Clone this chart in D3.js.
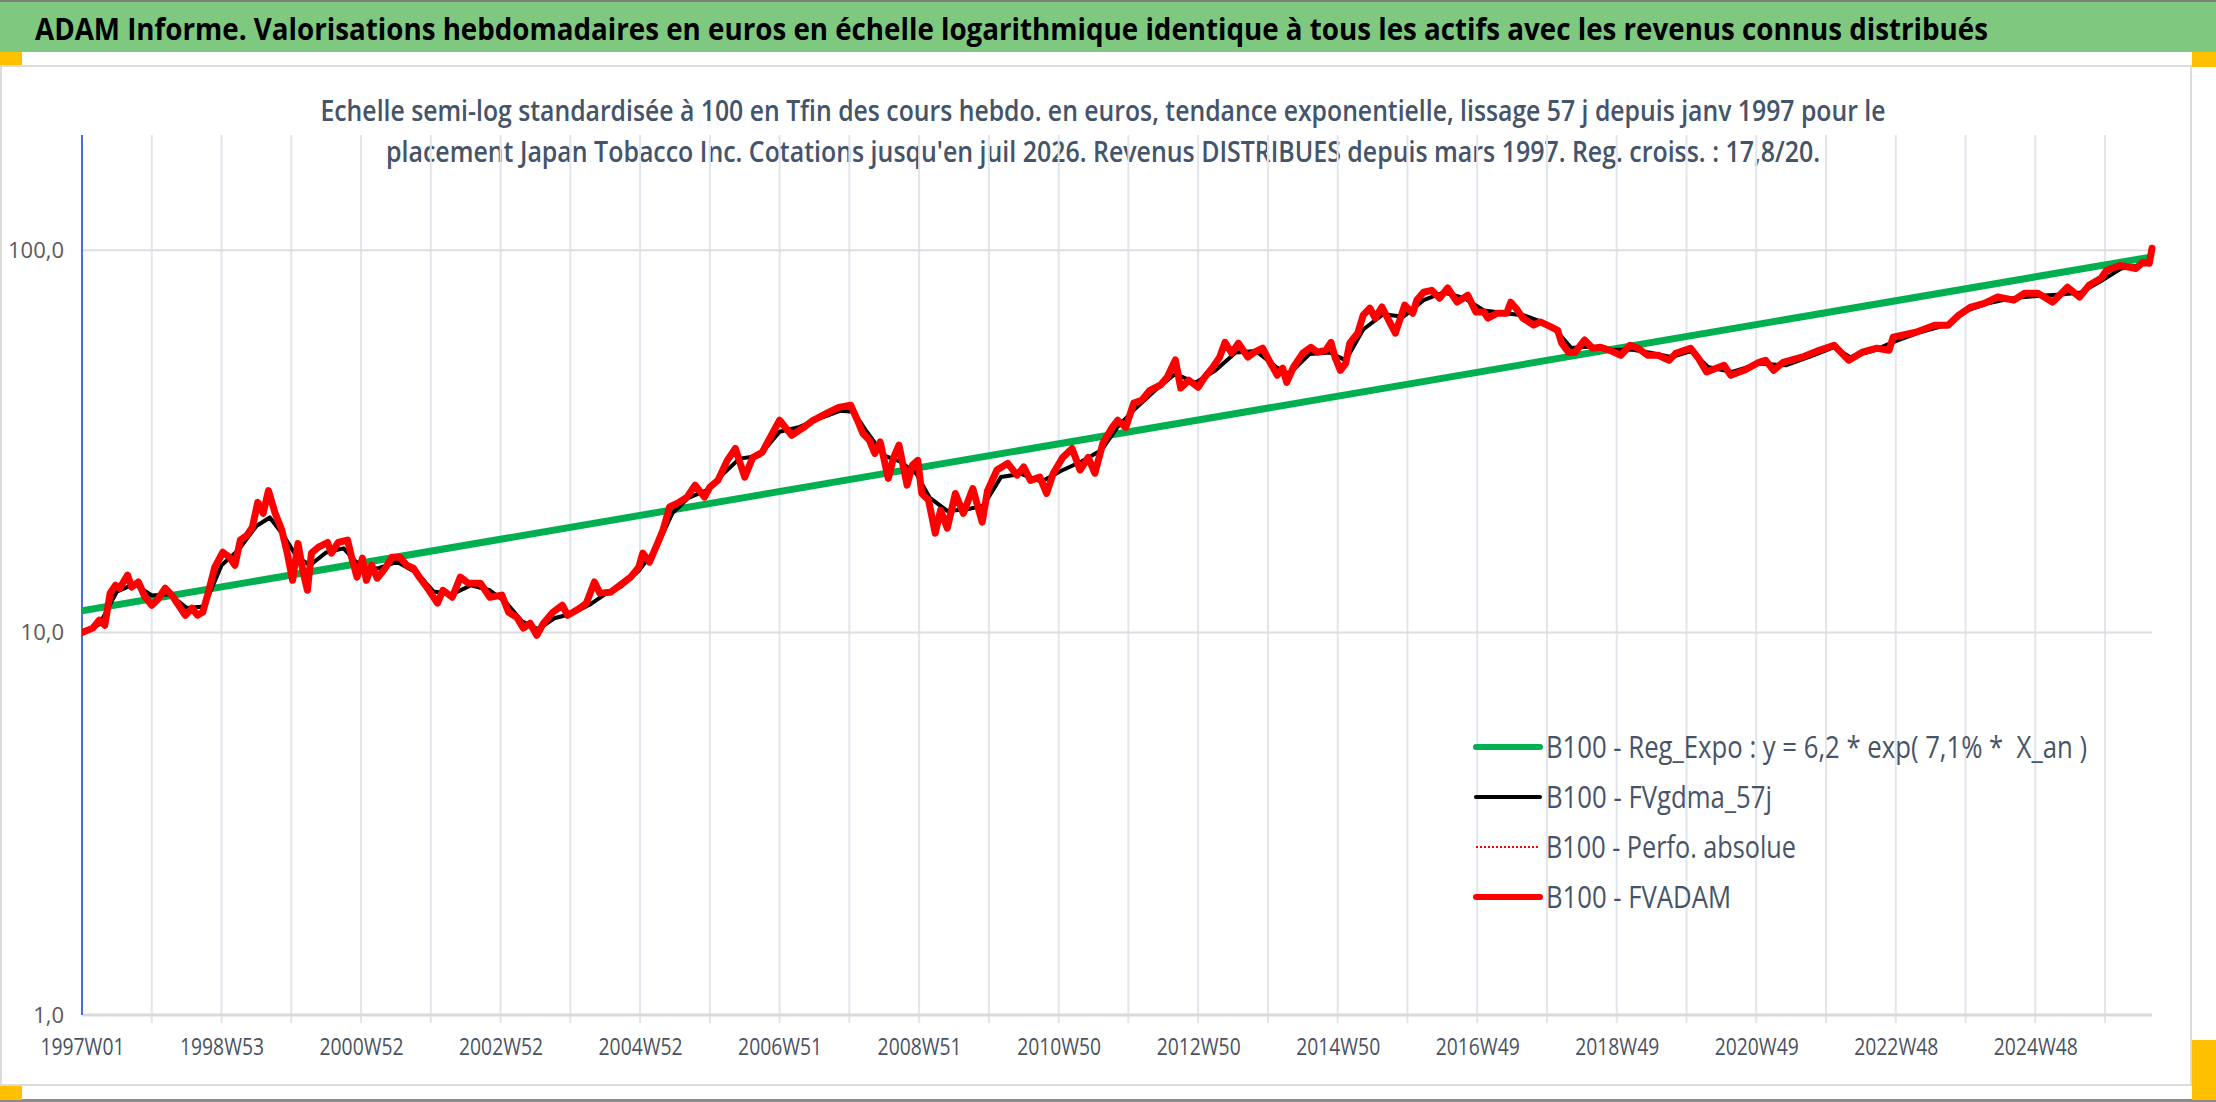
<!DOCTYPE html>
<html>
<head>
<meta charset="utf-8">
<script src="https://cdn.jsdelivr.net/npm/d3@7"></script>
<style>
  body { margin: 0; background: #fff; }
  svg { display: block; font-family: "Open Sans", "Noto Sans", sans-serif; }
  .pre { white-space: pre; }
</style>
</head>
<body>
<svg id="chart"></svg>
<script>
// ---- data (week index from 1997W01, value in base 100) ----
var tickLabels = ["1997W01","1998W53","2000W52","2002W52","2004W52","2006W51","2008W51",
                  "2010W50","2012W50","2014W50","2016W49","2018W49","2020W49","2022W48","2024W48"];
var yTicks = [1, 10, 100];
var yLabels = ["1,0", "10,0", "100,0"];

var regWeeks = [0, 1543];
var regValues = [11.4, 96];

var fvadamWeeks = [0,8,13,17,21,25,28,34,37,42,47,52,56,62,67,72,77,82,86,90,94,99,105,110,114,118,123,127,131,135,
  139,144,149,153,157,161,165,168,171,176,183,186,191,198,201,205,209,212,216,220,226,231,237,242,247,252,257,261,265,269,
  276,282,288,297,304,313,318,324,329,334,339,344,351,358,362,366,371,376,382,386,394,401,409,415,418,423,429,433,438,444,
  451,457,464,468,474,481,487,494,500,507,513,520,529,538,545,555,564,573,578,582,587,591,595,601,605,609,615,619,623,626,
  631,636,640,645,651,657,664,671,675,682,690,697,702,707,714,719,724,731,738,744,750,755,761,768,772,778,784,790,796,804,
  809,815,819,825,832,837,843,848,852,857,862,869,874,880,886,891,895,898,903,910,916,921,927,931,934,938,942,945,951,955,
  960,964,969,974,979,983,986,992,995,1000,1006,1012,1018,1025,1033,1039,1045,1048,1055,1062,1065,1070,1074,1082,1087,1095,
  1100,1103,1108,1113,1120,1126,1132,1139,1147,1154,1160,1167,1175,1183,1188,1199,1205,1211,1224,1229,1239,1250,1255,1261,
  1268,1282,1295,1306,1311,1317,1327,1338,1347,1350,1357,1367,1381,1391,1399,1408,1418,1428,1440,1448,1458,1469,1480,1489,
  1496,1505,1509,1519,1531,1536,1541,1543];
var fvadamValues = [10.0,10.27,10.78,10.45,12.68,13.3,13.06,14.13,13.15,13.56,12.37,11.79,12.15,13.06,12.53,11.79,11.1,11.58,11.1,11.3,
  12.68,14.82,16.22,15.74,15.0,17.44,17.97,18.86,21.9,20.5,23.5,20.5,18.5,16.13,13.7,17.1,14.3,12.9,16.13,16.7,
  17.2,16.13,17.2,17.44,15.74,13.96,15.65,13.7,15.0,13.87,14.73,15.74,15.74,15.0,14.73,13.87,13.15,12.53,11.94,12.9,
  12.37,13.96,13.46,13.46,12.37,12.53,11.3,10.97,10.27,10.58,9.84,10.58,11.3,11.79,11.1,11.3,11.58,11.94,13.56,12.68,
  12.75,13.3,13.96,14.82,16.13,15.28,17.1,18.5,21.3,21.8,22.6,24.3,22.6,24.0,25.0,28.2,30.3,25.5,28.7,29.6,
  32.4,35.9,32.8,34.4,35.9,37.4,38.8,39.3,35.9,33.2,31.8,29.4,31.5,25.3,28.7,30.9,24.3,27.4,28.2,23.1,
  22.2,18.2,20.9,18.75,23.1,20.5,23.8,19.45,23.5,26.6,27.7,25.8,27.1,25.0,25.5,23.1,26.1,28.7,30.3,26.6,
  28.7,26.1,31.3,34.4,35.9,34.4,39.8,40.5,43.0,44.4,46.6,51.6,43.6,45.7,43.8,46.6,49.4,52.5,57.4,53.8,
  57.1,52.5,54.1,55.4,50.6,47.1,49.1,45.1,49.4,53.8,55.7,54.1,54.7,57.4,52.5,48.5,50.6,57.1,60.7,67.6,
  70.5,66.4,71.0,65.6,60.7,66.8,71.8,68.4,74.0,77.6,78.5,74.9,79.6,73.1,76.2,68.9,68.9,66.4,68.4,68.4,
  73.1,69.7,66.4,63.7,64.9,63.0,61.7,57.1,54.1,54.1,58.2,55.4,55.7,54.7,53.1,56.4,55.4,53.1,53.1,51.5,
  53.7,55.4,52.1,48.0,50.0,47.1,48.5,50.9,51.5,48.5,50.9,52.5,54.7,56.4,54.1,51.5,54.1,55.4,54.7,59.2,
  59.9,61.0,63.6,63.6,67.6,71.0,72.6,75.4,74.0,77.1,77.1,73.1,80.0,75.4,80.9,84.4,88.5,91.2,89.5,92.9,
  92.4,101.1];

var fvgdmaWeeks = [0,13,26,39,52,65,78,91,104,117,130,140,150,160,170,182,195,208,220,235,250,262,276,290,304,316,328,340,352,365,
  378,390,402,415,428,440,452,465,478,490,505,520,535,550,565,575,585,598,610,622,632,645,660,672,685,700,715,730,745,760,
  772,785,800,815,830,845,860,875,890,900,915,930,942,955,970,985,1000,1015,1030,1045,1060,1075,1090,1100,1110,1125,1140,1155,1170,1185,
  1200,1212,1230,1250,1270,1290,1306,1318,1335,1350,1370,1390,1405,1420,1440,1460,1475,1490,1505,1520,1535,1543];
var fvgdmaValues = [10.0,10.5,12.8,13.4,12.5,12.6,11.6,11.7,15.0,16.5,19.0,20.0,18.0,15.8,15.0,16.2,16.6,14.8,14.7,15.3,
  14.3,12.8,12.6,13.3,12.9,12.0,10.7,10.2,10.9,11.2,11.8,12.6,13.2,14.5,16.6,20.5,22.5,23.5,26.0,28.5,
  29.0,33.5,34.5,36.3,38.0,37.8,33.5,29.0,28.0,26.0,22.5,20.8,21.0,21.5,25.5,26.0,24.8,26.5,28.0,30.0,
  34.5,38.5,43.0,47.5,45.0,48.5,54.0,54.5,49.5,47.5,53.5,54.0,51.5,62.0,68.0,67.0,74.0,77.5,75.0,69.5,
  68.5,67.5,64.5,61.0,55.5,56.0,54.8,55.0,53.8,52.5,54.5,49.5,48.0,50.5,50.0,53.0,55.8,52.5,54.5,57.5,
  61.0,63.8,69.5,72.5,75.0,76.0,76.5,77.5,83.0,89.5,91.5,95.0];

var legendNames = ["B100 - Reg_Expo : y = 6,2 * exp( 7,1% *  X_an )", "B100 - FVgdma_57j",
                   "B100 - Perfo. absolue", "B100 - FVADAM"];

var titleText = "ADAM Informe. Valorisations hebdomadaires en euros en échelle logarithmique identique à tous les actifs avec les revenus connus distribués";
var subLines = ["Echelle semi-log standardisée à 100 en Tfin des cours hebdo. en euros, tendance exponentielle, lissage 57 j depuis janv 1997 pour le",
                "placement Japan Tobacco Inc. Cotations jusqu'en juil 2026. Revenus DISTRIBUES depuis mars 1997. Reg. croiss. : 17,8/20."];

// ---- layout ----
var W = 2216, H = 1102;
var plot = {left: 82, right: 2152, top: 135, bottom: 1015};
var nWeeks = 1544;

var svg = d3.select("#chart").attr("width", W).attr("height", H);

// frame, title band, corner marks
svg.append("rect").attr("x", 0).attr("y", 0).attr("width", W).attr("height", H).attr("fill", "#fff");
svg.append("rect").attr("x", 0).attr("y", 0).attr("width", W).attr("height", 2).attr("fill", "#7f7f7f");
svg.append("rect").attr("x", 0).attr("y", 2).attr("width", W).attr("height", 50).attr("fill", "#7ec97f");
svg.append("rect").attr("x", 1).attr("y", 66).attr("width", 2190).attr("height", 1019)
  .attr("fill", "none").attr("stroke", "#dcdcdc").attr("stroke-width", 2);
svg.append("rect").attr("x", 0).attr("y", 1099).attr("width", W).attr("height", 3).attr("fill", "#8c8c8c");
var corners = [[0, 52, 22, 13], [2192, 52, 24, 15], [0, 1086, 22, 14], [2192, 1040, 24, 60]];
svg.selectAll(".corner").data(corners).enter().append("rect").attr("class", "corner")
  .attr("x", function(d){return d[0];}).attr("y", function(d){return d[1];})
  .attr("width", function(d){return d[2];}).attr("height", function(d){return d[3];})
  .attr("fill", "#ffc000");

svg.append("text").attr("x", 35).attr("y", 40)
  .attr("font-size", 30).attr("font-weight", "bold").attr("fill", "#000")
  .attr("textLength", 1953).attr("lengthAdjust", "spacingAndGlyphs")
  .text(titleText);

var subW = [1565, 1434];
svg.selectAll(".sub").data(subLines).enter().append("text").attr("class", "sub")
  .attr("x", 1103).attr("y", function(d, i){return 121 + i * 41;})
  .attr("text-anchor", "middle").attr("font-size", 29).attr("font-weight", 600).attr("fill", "#44546a")
  .attr("textLength", function(d, i){return subW[i];}).attr("lengthAdjust", "spacingAndGlyphs")
  .text(function(d){return d;});

// ---- scales ----
var x = d3.scaleLinear().domain([0, nWeeks - 1]).range([plot.left, plot.right]);
var y = d3.scaleLog().domain([1, 200]).range([plot.bottom, plot.top]);

// gridlines
var gridWeeks = d3.range(52, nWeeks, 52);
svg.append("g").selectAll("line").data(gridWeeks).enter().append("line")
  .attr("x1", function(d){return x(d);}).attr("x2", function(d){return x(d);})
  .attr("y1", plot.top).attr("y2", plot.bottom + 8)
  .attr("stroke", "#e1e5ec").attr("stroke-width", 2);
svg.append("g").selectAll("line").data(yTicks.slice(1)).enter().append("line")
  .attr("x1", plot.left).attr("x2", plot.right)
  .attr("y1", function(d){return y(d);}).attr("y2", function(d){return y(d);})
  .attr("stroke", "#dcdee3").attr("stroke-width", 2);
svg.append("line").attr("x1", plot.left).attr("x2", plot.right)
  .attr("y1", plot.bottom).attr("y2", plot.bottom)
  .attr("stroke", "#d9d9d9").attr("stroke-width", 3);
svg.append("line").attr("x1", plot.left).attr("x2", plot.left)
  .attr("y1", plot.top).attr("y2", plot.bottom)
  .attr("stroke", "#4472c4").attr("stroke-width", 2);

// axes labels
var xAxis = d3.axisBottom(x)
  .tickValues(tickLabels.map(function(d, i){return i * 104;}))
  .tickFormat(function(d, i){return tickLabels[i];})
  .tickSize(0).tickPadding(0);
var gx = svg.append("g").attr("transform", "translate(0," + plot.bottom + ")").call(xAxis);
gx.select(".domain").remove();
gx.selectAll("text").attr("y", 40).attr("dy", 0)
  .attr("font-size", 24).attr("font-family", "'Open Sans','Noto Sans',sans-serif")
  .attr("fill", "#4a5263").attr("textLength", 84).attr("lengthAdjust", "spacingAndGlyphs");

var yAxis = d3.axisLeft(y).tickValues(yTicks)
  .tickFormat(function(d, i){return yLabels[i];})
  .tickSize(0).tickPadding(0);
var gy = svg.append("g").attr("transform", "translate(64,0)").call(yAxis);
gy.select(".domain").remove();
gy.selectAll("text").attr("font-size", 22).attr("font-family", "'Open Sans','Noto Sans',sans-serif")
  .attr("fill", "#595959");

// ---- series ----
var line = d3.line()
  .x(function(d){return x(d[0]);})
  .y(function(d){return y(d[1]);});

svg.append("defs").append("clipPath").attr("id", "plotclip")
  .append("rect").attr("x", plot.left).attr("y", plot.top - 10)
  .attr("width", plot.right - plot.left + 6).attr("height", plot.bottom - plot.top + 10);

var series = svg.append("g").attr("clip-path", "url(#plotclip)");
series.append("path").datum(d3.zip(regWeeks, regValues)).attr("d", line)
  .attr("fill", "none").attr("stroke", "#00b050").attr("stroke-width", 7);
series.append("path").datum(d3.zip(fvgdmaWeeks, fvgdmaValues)).attr("d", line)
  .attr("fill", "none").attr("stroke", "#000").attr("stroke-width", 4)
  .attr("stroke-linejoin", "round");
series.append("path").datum(d3.zip(fvadamWeeks, fvadamValues)).attr("d", line)
  .attr("fill", "none").attr("stroke", "#ff0000").attr("stroke-width", 2)
  .attr("stroke-dasharray", "2,2");
series.append("path").datum(d3.zip(fvadamWeeks, fvadamValues)).attr("d", line)
  .attr("fill", "none").attr("stroke", "#ff0000").attr("stroke-width", 7)
  .attr("stroke-linejoin", "round").attr("stroke-linecap", "round");

// ---- legend ----
var legStyles = [
  {color: "#00b050", width: 6, dash: null},
  {color: "#000000", width: 4, dash: null},
  {color: "#ff0000", width: 2, dash: "2,2"},
  {color: "#ff0000", width: 6, dash: null}
];
var legW = [541, 226, 250, 185];
var leg = svg.append("g").attr("transform", "translate(1476,747)");
var items = leg.selectAll("g").data(legendNames).enter().append("g")
  .attr("transform", function(d, i){return "translate(0," + (i * 50) + ")";});
items.append("line").attr("x1", 0).attr("x2", 64).attr("y1", 0).attr("y2", 0)
  .attr("stroke", function(d, i){return legStyles[i].color;})
  .attr("stroke-width", function(d, i){return legStyles[i].width;})
  .attr("stroke-dasharray", function(d, i){return legStyles[i].dash;})
  .attr("stroke-linecap", function(d, i){return legStyles[i].dash ? "butt" : "round";});
items.append("text").attr("class", "pre").attr("x", 70).attr("y", 11)
  .attr("font-size", 31).attr("fill", "#475467")
  .attr("textLength", function(d, i){return legW[i];}).attr("lengthAdjust", "spacingAndGlyphs")
  .text(function(d){return d;});
</script>
</body>
</html>
